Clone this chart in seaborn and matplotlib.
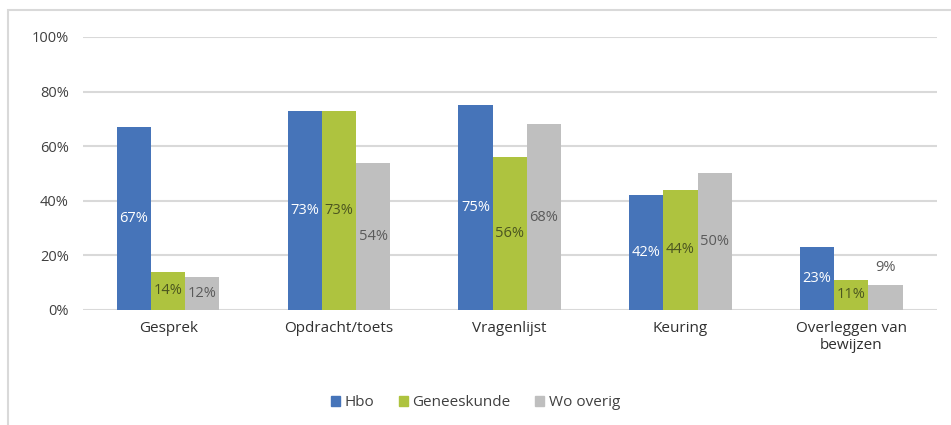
import matplotlib
matplotlib.use("Agg")
import matplotlib.pyplot as plt
import matplotlib.patches as mpatches
import numpy as np
import pandas as pd
import seaborn as sns

categories = ["Gesprek", "Opdracht/toets", "Vragenlijst", "Keuring", "Overleggen van\nbewijzen"]
groups = ["Hbo", "Geneeskunde", "Wo overig"]
hbo = [67, 73, 75, 42, 23]
geneeskunde = [14, 73, 56, 44, 11]
wo_overig = [12, 54, 68, 50, 9]

colors = ["#4674b9", "#aec33f", "#bfbfbf"]
label_colors = ["white", "#4b5520", "#5a5a5a"]

df = pd.DataFrame({
    "categorie": categories * 3,
    "groep": [groups[0]] * 5 + [groups[1]] * 5 + [groups[2]] * 5,
    "waarde": hbo + geneeskunde + wo_overig,
})

sns.set_style("white")
plt.rcParams["font.family"] = ["Open Sans", "DejaVu Sans"]

fig = plt.figure(figsize=(9.51, 4.25), dpi=100)
ax = fig.add_axes([0.087, 0.2706, 0.898, 0.6424])

sns.barplot(data=df, x="categorie", y="waarde", hue="groep", hue_order=groups,
            order=categories, palette=colors, width=0.6, gap=0, saturation=1,
            linewidth=0, ax=ax, legend=False, zorder=3)

ax.set_ylim(0, 100)
ax.set_xlim(-0.5, 4.5)
ax.set_yticks(np.arange(0, 101, 20))
ax.set_yticklabels([f"{v}%" for v in range(0, 101, 20)], color="#404040", fontsize=10.5)
ax.tick_params(axis="x", labelsize=11, labelcolor="#303030", length=0, pad=8)
ax.tick_params(axis="y", length=0, pad=10)
ax.set_xlabel("")
ax.set_ylabel("")
ax.grid(axis="y", color="#d9d9d9", linewidth=1.5, zorder=0)
for s in ax.spines.values():
    s.set_visible(False)

# data labels
for gi, cont in enumerate(ax.containers):
    for bar in cont:
        h = bar.get_height()
        xc = bar.get_x() + bar.get_width() / 2
        if h < 10:
            ax.text(xc, h + 4, f"{h:.0f}%", ha="center", va="bottom",
                    color="#5a5a5a", fontsize=10.5, zorder=4)
        else:
            ax.text(xc, h / 2, f"{h:.0f}%", ha="center", va="center",
                    color=label_colors[gi], fontsize=10.5, zorder=4)

handles = [mpatches.Patch(color=c, label=g) for c, g in zip(colors, groups)]
fig.legend(handles=handles, loc="center", bbox_to_anchor=(0.5, 0.052), ncol=3,
           frameon=False, fontsize=11, handlelength=0.6, handleheight=0.6,
           handletextpad=0.3, columnspacing=1.6, labelcolor="#404040")

# chart frame
frame = mpatches.Rectangle((8 / 951, -0.2), 1.2, 1 - 10 / 425 + 0.2,
                           transform=fig.transFigure, fill=False,
                           edgecolor="#d9d9d9", linewidth=1.5)
fig.patches.append(frame)

fig.savefig("out.png", dpi=100)
